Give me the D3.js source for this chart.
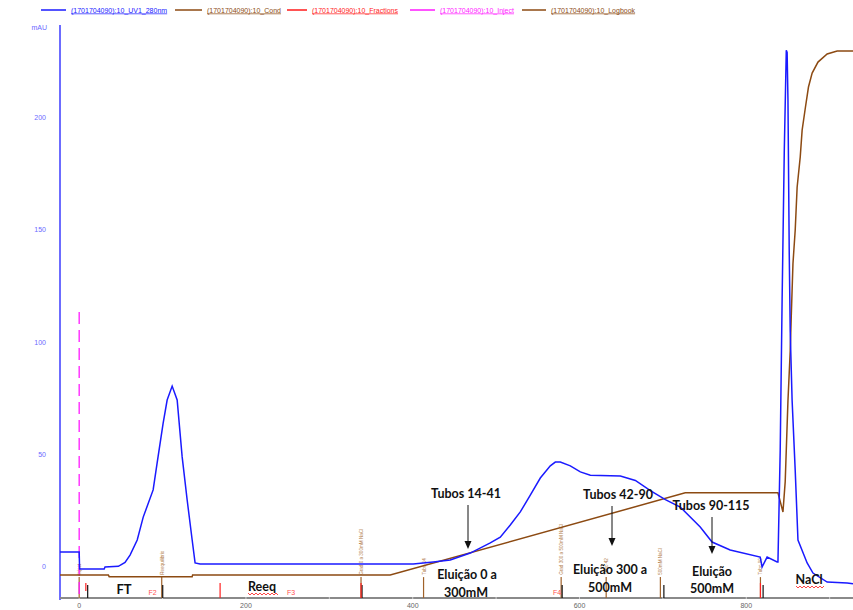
<!DOCTYPE html>
<html><head><meta charset="utf-8">
<script src="https://cdn.jsdelivr.net/npm/d3@7"></script>
<style>body{margin:0;background:#fff}</style>
</head><body>
<svg id="c" width="853" height="610"></svg>
<script>
// ---- data ----
const uvVolume = [-23, 0, 0.5, 30, 31, 47, 55, 61, 69.6, 76.8, 88.7, 93.5, 100.7, 105.5, 111.5, 117.5, 123.5, 129.5, 135.5, 139, 145, 400.6, 424.6, 445, 469, 493, 505, 517, 529, 541, 553, 565, 571, 577, 589, 601, 613, 649, 667, 685, 703, 720.8, 744.8, 759, 780.7, 816.7, 819, 825, 837, 838, 840.7, 843, 845.6, 848, 849, 850, 851.5, 852.7, 855, 858.7, 862, 873, 880, 897, 921, 928];
const uvAbs = [6.7, 6.7, -0.9, -0.9, 0, 0.3, 2, 5.3, 12, 22.2, 34.3, 46.3, 64, 74.3, 80.5, 74.3, 49, 29.8, 12, 1.8, 1.3, 1.3, 2.2, 3.1, 6.2, 10.7, 13.3, 18.7, 24.5, 32, 39.6, 45, 46.7, 46.7, 45, 42.3, 40.8, 40.5, 38.5, 34, 30, 26.7, 17.8, 11.1, 7.6, 4.4, 0, 4.4, 2.2, 2.2, 52, 119, 185.5, 230, 229, 208, 141, 105, 74, 43, 12, 1.8, -2.7, -6.7, -7.1, -7.5];
const condVolume = [-23, 35, 36, 135.5, 136, 373, 726.8, 838, 844, 846.7, 850, 852.7, 854, 856, 858.7, 861, 864.7, 867, 871, 874.6, 879, 886, 897, 909, 928];
const condValue = [-3.6, -3.6, -4.3, -4.3, -3.6, -3.6, 33, 33, 24.5, 38, 74, 96, 112, 135, 150, 169, 182.4, 194.4, 204.7, 213.6, 219.8, 224.7, 228.3, 229.6, 229.6];
const yTicks = [0, 50, 100, 150, 200];
const xTicks = [0, 200, 400, 600, 800];
const xMinorTicks = [100, 300, 500, 700, 900];
const fractionVolume = [8, 169, 338, 817];
const fractionLabels = ["F2", "F3", "F4"];
const fractionLabelVolume = [88, 254, 573];
const eventVolume = [9, 99, 338, 578, 700, 819];
const logbookVolume = [0, 99, 338, 413, 578, 632, 697, 817];
const logbookText = ["Inject", "Reequilibrio", "Grad 0 a 300mM NaCl", "Tubo 14", "Grad 300 a 500mM NaCl", "Tubo 42", "500mM NaCl", "Tubo 90"];
const injectVolume = 0;
const injectTop = 113.5;
const legendLabels = ["(1701704090):10_UV1_280nm", "(1701704090):10_Cond", "(1701704090):10_Fractions", "(1701704090):10_Inject", "(1701704090):10_Logbook"];
const legendColors = ["#1a1aff", "#8c4a12", "#ff1a1a", "#ff1aff", "#8c4a12"];

// ---- scales ----
const svg = d3.select("#c");
const x = d3.scaleLinear().domain([-23, 928]).range([60, 853]);
const y = d3.scaleLinear().domain([-13.8, 241.2]).range([598, 25]);
const yBottom = 598;

// legend
const legX = [41, 175, 287, 410, 522];
const legW = [25, 27, 20, 25, 24];
const leg = svg.append("g");
legendLabels.forEach((t, i) => {
  leg.append("line").attr("x1", legX[i]).attr("x2", legX[i] + legW[i]).attr("y1", 10).attr("y2", 10)
    .attr("stroke", legendColors[i]).attr("stroke-width", 1.5);
  leg.append("text").attr("x", legX[i] + legW[i] + 5).attr("y", 12.5).text(t)
    .attr("font-family", "Liberation Sans, Arial").attr("font-size", 7)
    .attr("fill", legendColors[i]).attr("text-decoration", "underline");
});

// y axis
svg.append("line").attr("x1", 60).attr("x2", 60).attr("y1", 25).attr("y2", 600)
  .attr("stroke", "#3b3bff").attr("stroke-width", 1.5);
svg.append("text").attr("x", 47).attr("y", 30).attr("text-anchor", "end").text("mAU")
  .attr("font-family", "Liberation Sans, Arial").attr("font-size", 7).attr("fill", "#6a6aff");
svg.selectAll(".yt").data(yTicks).enter().append("text")
  .attr("x", 46).attr("y", d => y(d) + 2.5).attr("text-anchor", "end").text(d => d)
  .attr("font-family", "Liberation Sans, Arial").attr("font-size", 7).attr("fill", "#6a6aff");

// x axis
svg.append("line").attr("x1", 60).attr("x2", 853).attr("y1", yBottom).attr("y2", yBottom)
  .attr("stroke", "#8a8a8a").attr("stroke-width", 2);
svg.selectAll(".xm").data(xMinorTicks.concat(xTicks)).enter().append("line")
  .attr("x1", d => x(d)).attr("x2", d => x(d)).attr("y1", yBottom - 1).attr("y2", yBottom + 1)
  .attr("stroke", "#d0d0d0").attr("stroke-width", 1);
svg.selectAll(".xt").data(xTicks).enter().append("text")
  .attr("x", d => x(d)).attr("y", 608).attr("text-anchor", "middle").text(d => d)
  .attr("font-family", "Liberation Sans, Arial").attr("font-size", 7).attr("fill", "#666");

// logbook lines + labels
logbookVolume.forEach((v, i) => {
  svg.append("line").attr("x1", x(v)).attr("x2", x(v)).attr("y1", y(-4.5)).attr("y2", yBottom)
    .attr("stroke", "#a0622a").attr("stroke-width", 1.2);
  svg.append("text").attr("transform", `translate(${x(v) + 2},${y(-3.5)}) rotate(-90)`)
    .text(logbookText[i]).attr("font-family", "Liberation Sans, Arial").attr("font-size", 4.6)
    .attr("fill", "#b07a48");
});
// event (black) marks
svg.selectAll(".ev").data(eventVolume).enter().append("line")
  .attr("x1", d => x(d) + 1).attr("x2", d => x(d) + 1).attr("y1", 585).attr("y2", yBottom)
  .attr("stroke", "#111").attr("stroke-width", 1.2);
// fractions
svg.selectAll(".fr").data(fractionVolume).enter().append("line")
  .attr("x1", d => x(d)).attr("x2", d => x(d)).attr("y1", 583).attr("y2", (d, i) => i === 0 ? 591 : yBottom)
  .attr("stroke", "#ff2020").attr("stroke-width", 1.2);
svg.selectAll(".fl").data(fractionLabels).enter().append("text")
  .attr("x", (d, i) => x(fractionLabelVolume[i])).attr("y", 595).attr("text-anchor", "middle").text(d => d)
  .attr("font-family", "Liberation Sans, Arial").attr("font-size", 7).attr("fill", "#ff5050");

// inject
svg.append("line").attr("x1", x(injectVolume)).attr("x2", x(injectVolume)).attr("y1", y(injectTop)).attr("y2", yBottom)
  .attr("stroke", "#ff1aff").attr("stroke-width", 1.3).attr("stroke-dasharray", "12,6");

// curves
const line = d3.line().x(d => x(d[0])).y(d => y(d[1]));
svg.append("path").datum(condVolume.map((v, i) => [v, condValue[i]])).attr("d", line)
  .attr("fill", "none").attr("stroke", "#8c4a12").attr("stroke-width", 1.5);
svg.append("path").datum(uvVolume.map((v, i) => [v, uvAbs[i]])).attr("d", line)
  .attr("fill", "none").attr("stroke", "#1a1aff").attr("stroke-width", 1.5);

// annotations
const font = "Lato, Calibri, sans-serif";
function label(t, cx, by, size) {
  svg.append("text").attr("x", cx).attr("y", by).attr("text-anchor", "middle").text(t)
    .attr("font-family", font).attr("font-weight", "bold").attr("font-size", size || 12.5).attr("fill", "#111");
}
function arrow(cx, y1, y2) {
  svg.append("line").attr("x1", cx).attr("x2", cx).attr("y1", y1).attr("y2", y2 - 6).attr("stroke", "#111").attr("stroke-width", 1);
  svg.append("path").attr("d", `M${cx - 3.5},${y2 - 8} L${cx + 3.5},${y2 - 8} L${cx},${y2} Z`).attr("fill", "#111");
}
function wavy(x1, x2, yy) {
  let d = `M${x1},${yy}`;
  for (let xx = x1, k = 0; xx < x2; xx += 2, k++) d += ` L${xx + 2},${yy + (k % 2 ? 0 : 2)}`;
  svg.append("path").attr("d", d).attr("fill", "none").attr("stroke", "#ff3030").attr("stroke-width", 0.9);
}
label("Tubos 14-41", 466, 498);
arrow(468, 505, 549);
label("Eluição 0 a", 467, 579);
label("300mM", 466, 597);
label("Tubos 42-90", 618, 499);
arrow(612, 506, 546);
label("Eluição 300 a", 610, 574);
label("500mM", 610, 592);
label("Tubos 90-115", 711, 510);
arrow(712, 517, 554);
label("Eluição", 712, 576);
label("500mM", 712, 593);
label("FT", 124, 594, 13);
label("Reeq", 262, 591);
wavy(248, 277, 593);
label("NaCl", 809, 584);
wavy(796, 824, 586);
</script>
</body></html>
